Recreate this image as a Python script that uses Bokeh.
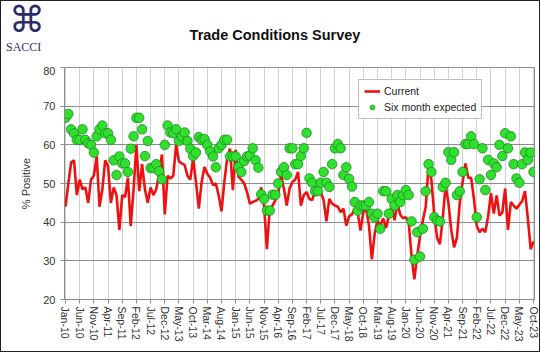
from bokeh.plotting import figure
from bokeh.layouts import column
from bokeh.models import FixedTicker, Legend, LegendItem, Range1d, Div
from bokeh.embed import file_html
from bokeh.resources import INLINE

# ---------------- data (monthly, Jan-10 .. Oct-23) ----------------
current = [44, 50, 55.5, 56, 47, 51, 48.5, 49, 45, 51,
           52, 57, 44, 48.5, 56, 54.5, 45, 49, 47, 38,
           47, 46.5, 51.5, 39, 48.5, 60, 48, 55, 48.5, 45,
           49, 47, 48.5, 52.5, 57.5, 42, 52, 51.3, 52, 60,
           55.7, 55.2, 54.8, 52, 51, 56.5, 50.4, 43.5, 50.4, 54.3,
           52.5, 51.5, 49.6, 50, 47, 42.8, 50.4, 56.5, 59, 48.3,
           58.7, 51.7, 51, 50, 47.8, 44.8, 45.2, 45.5, 46, 49,
           44.3, 33, 43.5, 44.3, 45.7, 47.4, 52.2, 48.7, 44.3, 48.7,
           50.4, 51, 53, 44.3, 47, 47.8, 46, 45.7, 48.3, 47.8,
           47.8, 45.7, 40.2, 46, 44.8, 44.3, 44, 42.6, 43.5, 39.1,
           41.5, 42, 43.5, 42.6, 37.8, 42.6, 43.5, 39.1, 30.4, 37,
           40.5, 39, 41, 38.5, 41.5, 44, 40.5, 45, 42, 41,
           41.3, 40, 31.3, 25.2, 31.3, 36.5, 40.5, 44, 54.5, 51,
           42, 36, 34.3, 41, 49.5, 45, 38, 33.5, 36, 45,
           50.4, 55.2, 51.5, 51.5, 46, 39, 37.4, 38.3, 37.4, 41.5,
           47.5, 42.2, 46.9, 41.7, 42.5, 48.7, 38, 45.2, 44.3, 43.5,
           44.5, 45.5, 48, 41, 33, 35]

expected = [67, 68, 64, 63, 61.3, 61.3, 64, 61.3, 60.4, 60,
            58, 62.2, 64, 65, 63, 63, 61.3, 56, 52.2, 57,
            55.2, 55.2, 53, 59, 62.2, 67, 67, 64, 57.1, 61,
            54, 54, 55, 53.2, 51.1, 60, 65, 63.2, 63, 64,
            61, 62.2, 63.2, 61, 59, 57.1, 58, 62, 61.3, 61.5,
            60, 58.3, 57, 54.2, 59.1, 60, 61.3, 61.3, 57, 57,
            57, 54.3, 53, 55.8, 57, 57.2, 59.1, 56, 54.1, 47.2,
            46, 43, 43, 47.1, 47.1, 50, 53, 54.2, 52.2, 59.1,
            59.1, 55, 55, 57.1, 59.1, 63.1, 51.3, 50.2, 48, 48,
            50.2, 53, 50.2, 49.1, 55, 59.1, 60.2, 59.1, 52.2, 54.2,
            51.2, 49.2, 45.2, 43, 44.3, 44.3, 44.3, 45.2, 42.2, 41.2,
            42.2, 38.3, 48, 48, 42.2, 46, 44.3, 47, 45.2, 47,
            48.3, 47, 40.2, 30.3, 37.4, 31.1, 38.3, 48, 55, 53,
            41.3, 40.4, 40.2, 49.1, 50.2, 58.1, 56.1, 58.1, 47, 48,
            53, 60.2, 60.2, 62.2, 60.2, 41.3, 51.1, 59.1, 48.3, 56.1,
            52.2, 55.2, 54.2, 60, 57.1, 63, 59.1, 62.2, 55, 51.3,
            50.2, 55, 58, 56.1, 58, 53]

tick_labels = ["Jan-10", "Jun-10", "Nov-10", "Apr-11", "Sep-11", "Feb-12", "Jul-12",
               "Dec-12", "May-13", "Oct-13", "Mar-14", "Aug-14", "Jan-15", "Jun-15",
               "Nov-15", "Apr-16", "Sep-16", "Feb-17", "Jul-17", "Dec-17", "May-18",
               "Oct-18", "Mar-19", "Aug-19", "Jan-20", "Jun-20", "Nov-20", "Apr-21",
               "Sep-21", "Feb-22", "Jul-22", "Dec-22", "May-23", "Oct-23"]

title_text = "Trade Conditions Survey"
logo_text = "SACCI"

month_idx = list(range(len(current)))
tick_pos = [i * 5 for i in range(len(tick_labels))]

FONT = "Liberation Sans"

# ---------------- header: logo + title ----------------
header_html = (
    '<div style="position:relative;width:538px;height:65px;">'
    '<div style="position:absolute;left:8px;top:1px;font-family:\'DejaVu Sans\';'
    'font-size:36px;line-height:36px;color:#2e2a6b;">\u2318</div>'
    '<div style="position:absolute;left:5px;top:40px;font-family:\'Liberation Serif\';'
    'font-size:12px;line-height:12px;color:#2e2a6b;">' + logo_text + '</div>'
    '<div style="position:absolute;left:124px;width:300px;top:26px;text-align:center;'
    'font-family:\'Liberation Sans\';font-weight:bold;font-size:14.5px;line-height:17px;'
    'color:#111111;">' + title_text + '</div>'
    '</div>'
)
header = Div(text=header_html, width=538, height=65, margin=0)

# ---------------- chart ----------------
p = figure(width=538, height=285, x_range=Range1d(-0.35, 165.35), y_range=Range1d(20, 80),
           output_backend="svg", toolbar_location=None, title=None,
           min_border_left=63, min_border_right=5, min_border_top=1, min_border_bottom=52)
p.outline_line_color = "#8c8c8c"
p.background_fill_color = "white"

p.xaxis.ticker = FixedTicker(ticks=tick_pos)
p.xaxis.major_label_overrides = {pos: lab for pos, lab in zip(tick_pos, tick_labels)}
p.xaxis.major_label_orientation = "vertical"
p.xaxis.minor_tick_line_color = None
p.xaxis.major_tick_out = 4
p.xaxis.major_tick_in = 0
p.xaxis.major_label_standoff = 3
p.xaxis.major_label_text_font = FONT
p.xaxis.major_label_text_font_size = "10.5px"
p.xaxis.major_label_text_color = "#333333"
p.xaxis.axis_line_color = "#8c8c8c"
p.xaxis.major_tick_line_color = "#8c8c8c"

p.yaxis.ticker = FixedTicker(ticks=[20, 30, 40, 50, 60, 70, 80])
p.yaxis.minor_tick_line_color = None
p.yaxis.major_tick_out = 4
p.yaxis.major_tick_in = 0
p.yaxis.major_label_standoff = 5
p.yaxis.major_label_text_font = FONT
p.yaxis.major_label_text_font_size = "11px"
p.yaxis.major_label_text_color = "#333333"
p.yaxis.axis_line_color = "#8c8c8c"
p.yaxis.major_tick_line_color = "#8c8c8c"
p.yaxis.axis_label = "% Positive"
p.yaxis.axis_label_text_font = FONT
p.yaxis.axis_label_text_font_style = "normal"
p.yaxis.axis_label_text_font_size = "11px"
p.yaxis.axis_label_text_color = "#333333"
p.yaxis.axis_label_standoff = 8

p.xgrid.grid_line_color = "#d2d2d2"
p.ygrid.grid_line_color = "#8c8c8c"

r_line = p.line(month_idx, current, line_color="#ee1111", line_width=2.6)
r_dots = p.scatter(month_idx, expected, size=9.5, fill_color="#2fe02f",
                   line_color="#1d8a1d", line_width=0.8)

legend = Legend(items=[LegendItem(label="Current", renderers=[r_line]),
                       LegendItem(label="Six month expected", renderers=[r_dots])],
                location=(294, 180))
legend.border_line_color = "#808080"
legend.border_line_width = 1
legend.background_fill_alpha = 1
legend.label_text_font = FONT
legend.label_text_font_size = "10.5px"
legend.label_text_color = "#222222"
legend.glyph_width = 16
legend.glyph_height = 12
legend.label_height = 12
legend.label_standoff = 4
legend.spacing = 4
legend.padding = 5
legend.margin = 0
p.add_layout(legend, "center")

layout = column(header, p, spacing=0, styles={"border": "1px solid #222222"})

open("out.html", "w").write(file_html(layout, INLINE))
